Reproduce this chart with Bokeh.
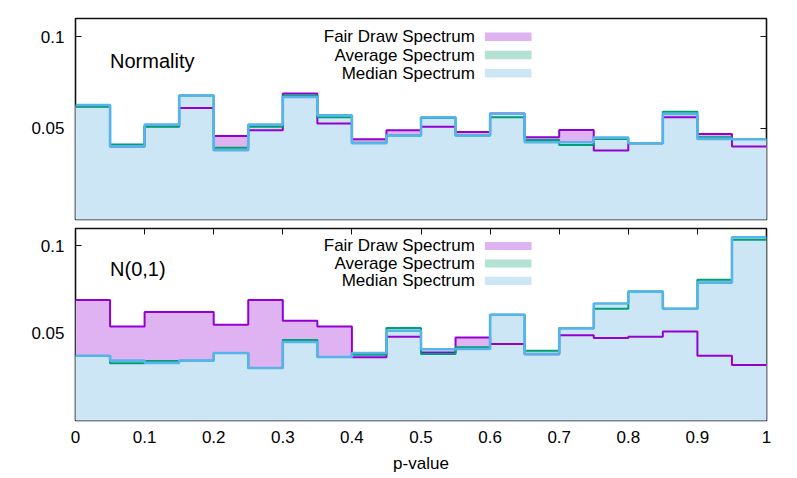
from bokeh.plotting import figure
from bokeh.layouts import column
from bokeh.models import (Range1d, FixedTicker, LinearAxis, CustomJSTickFormatter,
                          Label, BoxAnnotation)
from bokeh.embed import file_html
from bokeh.resources import INLINE

# ---- data ----
p_edges = [0.0, 0.05, 0.1, 0.15, 0.2, 0.25, 0.3, 0.35, 0.4, 0.45, 0.5,
           0.55, 0.6, 0.65, 0.7, 0.75, 0.8, 0.85, 0.9, 0.95, 1.0]

norm_fair = [0.062, 0.040, 0.051, 0.061, 0.0457, 0.0488, 0.069, 0.0526, 0.0439, 0.0488,
             0.0508, 0.0479, 0.058, 0.045, 0.049, 0.0377, 0.0417, 0.0559, 0.0468, 0.0399]
norm_avg = [0.0617, 0.041, 0.0508, 0.0678, 0.0392, 0.0508, 0.0678, 0.0559, 0.042, 0.046,
            0.0555, 0.046, 0.0559, 0.0435, 0.0408, 0.0441, 0.0417, 0.059, 0.045, 0.044]
norm_med = [0.0627, 0.040, 0.0519, 0.0678, 0.0379, 0.0519, 0.067, 0.057, 0.0417, 0.046,
            0.0559, 0.046, 0.0579, 0.0423, 0.0423, 0.0448, 0.0417, 0.0578, 0.0441, 0.0439]

n01_fair = [0.069, 0.0539, 0.0621, 0.0621, 0.0549, 0.069, 0.0571, 0.0539, 0.0362, 0.048,
            0.0389, 0.0476, 0.0438, 0.038, 0.0488, 0.0472, 0.048, 0.051, 0.0371, 0.0318]
n01_avg = [0.037, 0.0328, 0.0341, 0.0343, 0.0387, 0.0301, 0.0461, 0.0364, 0.0377, 0.053,
           0.0381, 0.0419, 0.0606, 0.040, 0.053, 0.064, 0.0739, 0.064, 0.0806, 0.1036]
n01_med = [0.0371, 0.0343, 0.033, 0.0343, 0.0387, 0.0301, 0.045, 0.0364, 0.0387, 0.0514,
           0.0408, 0.041, 0.0606, 0.0381, 0.0528, 0.067, 0.0739, 0.064, 0.079, 0.105]

x_ticks = [0.0, 0.1, 0.2, 0.3, 0.4, 0.5, 0.6, 0.7, 0.8, 0.9, 1.0]
y_ticks = [0.05, 0.1]
series_names = ["Fair Draw Spectrum", "Average Spectrum", "Median Spectrum"]
panel_titles = ["Normality", "N(0,1)"]

# ---- style ----
FONT = "Liberation Sans"
line_colors = ["#9400d3", "#009e73", "#56b4e9"]
fill_colors = ["#dfb3f1", "#b3e2d5", "#cce6f6"]
line_widths = [2, 2, 2.6]


def fmt():
    return CustomJSTickFormatter(code="return tick.toString();")


def tick_axis(ticks):
    # tick marks only, drawn beneath the filled areas (as in the reference)
    ax = LinearAxis(ticker=FixedTicker(ticks=ticks), formatter=fmt())
    ax.axis_line_color = None
    ax.major_tick_in = 6
    ax.major_tick_out = 0
    ax.minor_tick_line_color = None
    ax.major_tick_line_color = "#111111"
    ax.major_tick_line_width = 1
    ax.major_label_text_font_size = "0px"
    ax.major_label_text_color = None
    ax.major_label_standoff = 0
    ax.level = "underlay"
    return ax


def label_axis(ticks, standoff):
    ax = LinearAxis(ticker=FixedTicker(ticks=ticks), formatter=fmt())
    ax.axis_line_color = None
    ax.major_tick_line_color = None
    ax.major_tick_in = 0
    ax.major_tick_out = 0
    ax.minor_tick_line_color = None
    ax.major_label_text_font = FONT
    ax.major_label_text_font_size = "17px"
    ax.major_label_text_color = "black"
    ax.major_label_standoff = standoff
    return ax


def make_panel(title, series, height, border_top, border_bottom, show_x):
    p = figure(width=797, height=height, output_backend="svg", toolbar_location=None,
               x_range=Range1d(0, 1), y_range=Range1d(0, 0.11),
               min_border_left=75, min_border_right=31,
               min_border_top=border_top, min_border_bottom=border_bottom,
               x_axis_location=None, y_axis_location=None)
    p.grid.visible = False
    p.outline_line_color = "#111111"
    p.outline_line_width = 1.6
    p.background_fill_color = "white"
    p.border_fill_color = "white"

    # fills first, then lines
    for vals, fc in zip(series, fill_colors):
        ys = list(vals) + [vals[-1]]
        p.varea_step(x=p_edges, y1=0, y2=ys, step_mode="after", fill_color=fc, fill_alpha=1.0)
    for vals, lc, lw in zip(series, line_colors, line_widths):
        ys = list(vals) + [vals[-1]]
        p.step(x=p_edges, y=ys, mode="after", line_color=lc, line_width=lw)

    p.add_layout(tick_axis(y_ticks), "left")
    p.add_layout(label_axis(y_ticks, 11), "left")
    p.add_layout(tick_axis(y_ticks), "right")

    if show_x:
        bottom = label_axis(x_ticks, 10)
        bottom.axis_label = "p-value"
        bottom.axis_label_text_font = FONT
        bottom.axis_label_text_font_size = "17px"
        bottom.axis_label_text_font_style = "normal"
        bottom.axis_label_text_color = "black"
        bottom.axis_label_standoff = 8
        p.add_layout(bottom, "below")
        p.add_layout(tick_axis(x_ticks), "above")

    # panel title
    p.add_layout(Label(x=0.05, y=0.087, text=title, text_font=FONT, text_font_size="20px",
                       text_baseline="middle", text_align="left", text_color="black"))

    # legend (text left, swatch right)
    rows_y = [0.1, 0.09, 0.08]
    for name, fc, yy in zip(series_names, fill_colors, rows_y):
        p.add_layout(Label(x=0.578, y=yy, text=name, text_font=FONT, text_font_size="17px",
                           text_align="right", text_baseline="middle", text_color="black"))
        p.add_layout(BoxAnnotation(left=0.5925, right=0.66, bottom=yy - 0.0023, top=yy + 0.0023,
                                   fill_color=fc, fill_alpha=1.0, line_color=None, level="annotation"))
    return p


p1 = make_panel(panel_titles[0], [norm_fair, norm_avg, norm_med], 223, 18, 4, False)
p2 = make_panel(panel_titles[1], [n01_fair, n01_avg, n01_med], 255, 5, 58, True)

layout = column(p1, p2, spacing=0)
open("out.html", "w").write(file_html(layout, INLINE))
